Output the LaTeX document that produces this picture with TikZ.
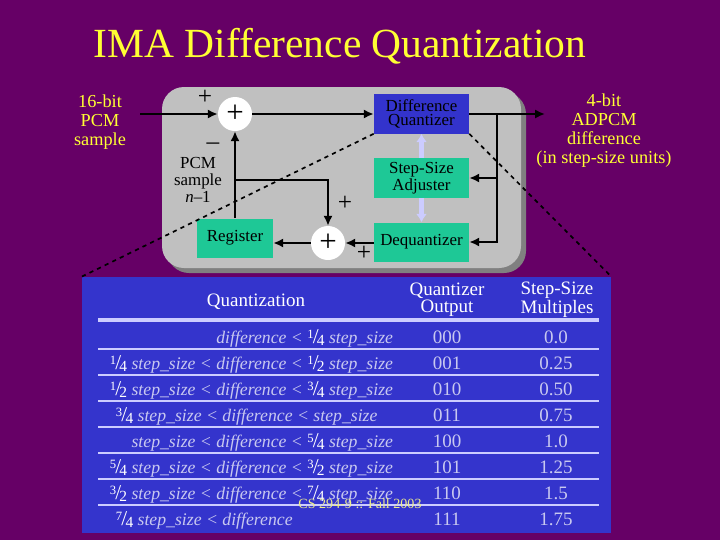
\documentclass[tikz,border=0pt]{standalone}
\usepackage{fontspec}
\setmainfont{Liberation Serif}
\usetikzlibrary{arrows.meta}
\definecolor{bgpurple}{RGB}{102,0,102}
\definecolor{panelgray}{RGB}{192,192,192}
\definecolor{shadowgray}{RGB}{128,128,128}
\definecolor{boxblue}{RGB}{51,51,204}
\definecolor{boxgreen}{RGB}{30,200,150}
\definecolor{tabblue}{RGB}{52,52,204}
\definecolor{hiyellow}{RGB}{255,255,51}
\definecolor{lav}{RGB}{204,204,255}
\definecolor{rowtxt}{RGB}{200,200,240}
\definecolor{footyellow}{RGB}{235,235,140}
\newcommand{\fr}[2]{{\color{white}\upshape\raisebox{.5ex}{\fontsize{9}{9}\selectfont#1}\kern-.05em{\fontsize{15}{15}\selectfont/}\kern-.1em\raisebox{-.25ex}{\fontsize{11}{11}\selectfont#2}}}
\tikzstyle{blk} = [minimum width=2.375cm, minimum height=0.975cm, inner sep=0pt, align=center, font=\fontsize{12}{10.5}\selectfont]
\tikzstyle{sum} = [circle, fill=white, minimum size=0.85cm, inner sep=0pt, font=\fontsize{22}{22}\selectfont]
\tikzstyle{sig} = [line width=2pt, -{Latex[length=7pt,width=6.5pt]}]
\tikzstyle{ctl} = [line width=3pt, lav, -{Latex[length=6pt,width=8pt]}]
\tikzstyle{lbl} = [text=hiyellow, align=center, font=\fontsize{13}{13.5}\selectfont]
\tikzstyle{sgn} = [font=\fontsize{18}{18}\selectfont]
\tikzstyle{cond} = [text=rowtxt, anchor=base east, font=\fontsize{12.6}{15}\selectfont\itshape]
\tikzstyle{val} = [text=rowtxt, anchor=base, font=\fontsize{13.5}{15}\selectfont]
\tikzstyle{hdr} = [text=white, align=center, font=\fontsize{13.5}{12}\selectfont]

\begin{document}
\begin{tikzpicture}[x=0.025cm, y=-0.025cm]

\fill[bgpurple] (0,0) rectangle (720,540);
\useasboundingbox (0,0) rectangle (720,540);

\node[text=hiyellow, anchor=base, font=\fontsize{29.5}{30}\selectfont] (title) at (340,57) {IMA Difference Quantization};

\fill[shadowgray, rounded corners=0.55cm] (167,92) rectangle (526,273);
\fill[panelgray, rounded corners=0.55cm] (162,87) rectangle (521,268);

\node[fill=tabblue, minimum width=13.225cm, minimum height=6.4cm, inner sep=0pt] (tab) at (346.5,405) {};

\node[blk, fill=boxblue] (dq) at (421.5,114) {Difference\\Quantizer};
\node[blk, fill=boxgreen] (ssa) at (421.5,178) {Step-Size\\Adjuster};
\node[blk, fill=boxgreen] (deq) at (421.5,242) {Dequantizer};
\node[blk, fill=boxgreen, minimum width=1.9cm] (reg) at (235,238) {Register};
\node[sum] (s1) at (235,114) {+};
\node[sum] (s2) at (328,243) {+};

\node[lbl] (in) at (100,122) {16-bit\\PCM\\sample};
\node[lbl] (out) at (604,131) {4-bit\\ADPCM\\difference\\(in step-size units)};

\coordinate (src) at (140,114);
\coordinate (dst) at (545,114);
\coordinate (split) at (497,114);
\coordinate (tap) at (235,180);

\draw[sig] (src) -- (s1);
\draw[sig] (s1) -- (dq);
\draw[sig] (dq) -- (dst);
\draw[sig] (split) -- (split |- deq) -- (deq);
\draw[sig] (split |- ssa) -- (ssa);
\draw[sig] (deq.west |- s2) -- (s2);
\draw[sig] (s2) -- (s2 -| reg.east);
\draw[sig] (reg) -- (s1);
\draw[sig] (tap) -- (tap -| s2) -- (s2);
\draw[ctl] (ssa) -- (dq);
\draw[ctl] (ssa) -- (deq);

\node[sgn] (p1) at (205,97) {+};
\node[sgn] (m1) at (213,146) {–};
\node[align=center, font=\fontsize{12}{12}\selectfont] (prev) at (198,180) {PCM\\sample\\{\itshape n}–1};
\node[sgn] (p2) at (345,203) {+};
\node[sgn] (p3) at (364,253) {+};

\node[hdr, anchor=base] (hq) at (256,306) {Quantization};
\node[hdr] (ho) at (447,300) {Quantizer\\Output};
\node[hdr] (hm) at (557,300) {Step-Size\\Multiples};

\draw[lav, line width=2.8pt] (98,320) -- (599,320);
\foreach \y in {349,375,...,505}
  \draw[lav, line width=1.4pt] (98,\y) -- (599,\y);

\node[cond] (c0) at (398,343) {difference < \fr14 step\_size};
\node[cond] (c1) at (398,369) {\fr14 step\_size < difference < \fr12 step\_size};
\node[cond] (c2) at (398,395) {\fr12 step\_size < difference < \fr34 step\_size};
\node[cond, anchor=base west] (c3) at (111,421) {\fr34 step\_size < difference < step\_size};
\node[cond] (c4) at (398,447) {step\_size < difference < \fr54 step\_size};
\node[cond] (c5) at (398,473) {\fr54 step\_size < difference < \fr32 step\_size};
\node[cond] (c6) at (398,499) {\fr32 step\_size < difference < \fr74 step\_size};
\node[cond, anchor=base west] (c7) at (111,525) {\fr74 step\_size < difference};

\foreach \y/\q/\m [count=\i] in {343/000/0.0, 369/001/0.25, 395/010/0.50, 421/011/0.75, 447/100/1.0, 473/101/1.25, 499/110/1.5, 525/111/1.75} {
  \node[val] (q\i) at (447,\y) {\q};
  \node[val] (m\i) at (556,\y) {\m};
}

\node[text=footyellow, anchor=base, font=\fontsize{10}{10}\selectfont] (foot) at (360,508) {CS 294-9 :: Fall 2003};

\draw[dashed, line width=1.2pt] (dq.south west) -- (tab.north west);
\draw[dashed, line width=1.2pt] (dq.south east) -- (tab.north east);
\end{tikzpicture}
\end{document}
